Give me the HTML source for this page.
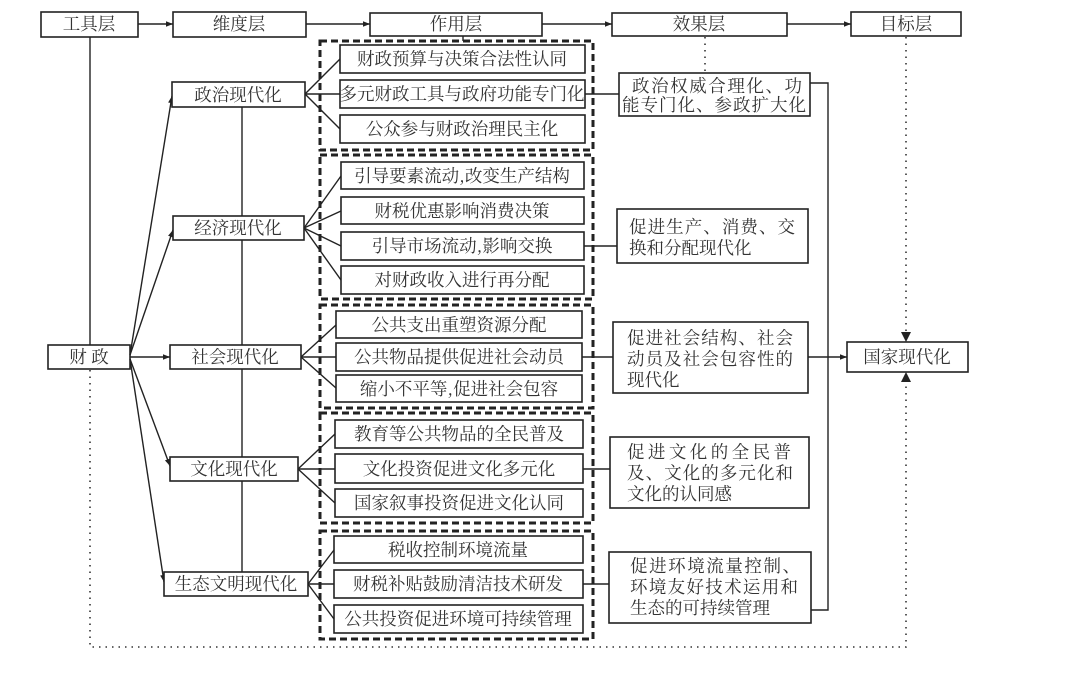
<!DOCTYPE html>
<html><head><meta charset="utf-8"><style>
html,body{margin:0;padding:0;background:#fff}
svg{display:block}
text{font-family:"Noto Serif CJK SC","Liberation Serif",serif;font-size:17.5px;fill:#333}
.b{fill:#fff;stroke:#222;stroke-width:1.6}
.l{stroke:#222;stroke-width:1.4;fill:none}
.d{stroke:#222;stroke-width:3;fill:none;stroke-dasharray:7,4}
.o{stroke:#333;stroke-width:1.6;fill:none;stroke-dasharray:1.5,5}
</style></head><body>
<svg width="1080" height="674" viewBox="0 0 1080 674">
<defs><marker id="a" viewBox="0 0 10 10" refX="10" refY="5" markerWidth="9" markerHeight="7" orient="auto" markerUnits="userSpaceOnUse"><path d="M0,1 L10,5 L0,9 Z" fill="#222"/></marker></defs>

<rect class="b" x="41" y="12" width="97" height="25"/><text x="89" y="30" text-anchor="middle">工具层</text>
<rect class="b" x="173" y="12" width="133" height="25"/><text x="239" y="30" text-anchor="middle">维度层</text>
<rect class="b" x="370" y="13" width="172" height="23"/><text x="456" y="30" text-anchor="middle">作用层</text>
<rect class="b" x="612" y="13" width="175" height="23"/><text x="699" y="30" text-anchor="middle">效果层</text>
<rect class="b" x="851" y="12" width="110" height="24"/><text x="906" y="30" text-anchor="middle">目标层</text>
<line class="l" x1="138" y1="24" x2="173" y2="24" marker-end="url(#a)"/>
<line class="l" x1="306" y1="24" x2="370" y2="24" marker-end="url(#a)"/>
<line class="l" x1="542" y1="24" x2="612" y2="24" marker-end="url(#a)"/>
<line class="l" x1="787" y1="24" x2="851" y2="24" marker-end="url(#a)"/>
<line class="l" x1="463" y1="36" x2="463" y2="41"/>

<line class="l" x1="90" y1="37" x2="90" y2="345"/>
<line class="l" x1="242" y1="107" x2="242" y2="572"/>
<polyline class="o" points="90,370 90,647 906,647 906,374"/>
<line class="o" x1="906" y1="37" x2="906" y2="336"/>
<path d="M901,332 L906,342 L911,332 Z" fill="#222"/>
<path d="M901,382 L906,372 L911,382 Z" fill="#222"/>
<line class="o" x1="705" y1="37" x2="705" y2="73"/>

<rect class="b" x="48" y="345" width="82" height="24"/><text x="89" y="363" text-anchor="middle">财 政</text>
<line class="l" x1="130" y1="355" x2="172" y2="96" marker-end="url(#a)"/>
<line class="l" x1="130" y1="355" x2="173" y2="230" marker-end="url(#a)"/>
<line class="l" x1="130" y1="357" x2="170" y2="357" marker-end="url(#a)"/>
<line class="l" x1="130" y1="359" x2="170" y2="466" marker-end="url(#a)"/>
<line class="l" x1="130" y1="359" x2="164" y2="582" marker-end="url(#a)"/>

<rect class="b" x="172" y="82" width="133" height="25"/><text x="238" y="101" text-anchor="middle">政治现代化</text>
<rect class="b" x="173" y="216" width="131" height="24"/><text x="238" y="234" text-anchor="middle">经济现代化</text>
<rect class="b" x="170" y="345" width="131" height="24"/><text x="235" y="363" text-anchor="middle">社会现代化</text>
<rect class="b" x="170" y="457" width="128" height="24"/><text x="234" y="475" text-anchor="middle">文化现代化</text>
<rect class="b" x="164" y="572" width="144" height="24"/><text x="236" y="590" text-anchor="middle">生态文明现代化</text>

<g class="l">
<line x1="305" y1="94" x2="340" y2="59"/><line x1="305" y1="94" x2="340" y2="94"/><line x1="305" y1="94" x2="340" y2="129"/>
<line x1="304" y1="228" x2="341" y2="176"/><line x1="304" y1="228" x2="341" y2="211"/><line x1="304" y1="228" x2="341" y2="246"/><line x1="304" y1="228" x2="341" y2="280"/>
<line x1="301" y1="357" x2="336" y2="325"/><line x1="301" y1="357" x2="336" y2="357"/><line x1="301" y1="357" x2="336" y2="388"/>
<line x1="298" y1="469" x2="335" y2="434"/><line x1="298" y1="469" x2="335" y2="469"/><line x1="298" y1="469" x2="335" y2="503"/>
<line x1="308" y1="584" x2="334" y2="550"/><line x1="308" y1="584" x2="334" y2="584"/><line x1="308" y1="584" x2="334" y2="619"/>
</g>

<rect class="d" x="320" y="41" width="273" height="109"/>
<rect class="d" x="320" y="155" width="273" height="144"/>
<rect class="d" x="320" y="305" width="273" height="103"/>
<rect class="d" x="320" y="413" width="273" height="110"/>
<rect class="d" x="320" y="531" width="273" height="108"/>

<g>
<rect class="b" x="340" y="45" width="245" height="28"/><text x="462" y="65" text-anchor="middle">财政预算与决策合法性认同</text>
<rect class="b" x="340" y="80" width="245" height="28"/><text x="462" y="100" text-anchor="middle">多元财政工具与政府功能专门化</text>
<rect class="b" x="340" y="115" width="245" height="28"/><text x="462" y="135" text-anchor="middle">公众参与财政治理民主化</text>
<rect class="b" x="341" y="162" width="243" height="27"/><text x="462" y="182" text-anchor="middle">引导要素流动,改变生产结构</text>
<rect class="b" x="341" y="197" width="243" height="27"/><text x="462" y="217" text-anchor="middle">财税优惠影响消费决策</text>
<rect class="b" x="341" y="232" width="243" height="28"/><text x="462" y="252" text-anchor="middle">引导市场流动,影响交换</text>
<rect class="b" x="341" y="266" width="243" height="28"/><text x="462" y="286" text-anchor="middle">对财政收入进行再分配</text>
<rect class="b" x="336" y="311" width="246" height="27"/><text x="459" y="331" text-anchor="middle">公共支出重塑资源分配</text>
<rect class="b" x="336" y="343" width="246" height="28"/><text x="459" y="363" text-anchor="middle">公共物品提供促进社会动员</text>
<rect class="b" x="336" y="375" width="246" height="27"/><text x="459" y="395" text-anchor="middle">缩小不平等,促进社会包容</text>
<rect class="b" x="335" y="420" width="248" height="28"/><text x="459" y="440" text-anchor="middle">教育等公共物品的全民普及</text>
<rect class="b" x="335" y="454" width="248" height="29"/><text x="459" y="475" text-anchor="middle">文化投资促进文化多元化</text>
<rect class="b" x="335" y="489" width="248" height="28"/><text x="459" y="509" text-anchor="middle">国家叙事投资促进文化认同</text>
<rect class="b" x="334" y="536" width="249" height="27"/><text x="458" y="556" text-anchor="middle">税收控制环境流量</text>
<rect class="b" x="334" y="570" width="249" height="28"/><text x="458" y="590" text-anchor="middle">财税补贴鼓励清洁技术研发</text>
<rect class="b" x="334" y="605" width="249" height="28"/><text x="458" y="625" text-anchor="middle">公共投资促进环境可持续管理</text>
</g>

<g class="l">
<line x1="585" y1="94" x2="619" y2="94"/>
<line x1="584" y1="246" x2="617" y2="246"/>
<line x1="582" y1="357" x2="613" y2="357"/>
<line x1="583" y1="469" x2="610" y2="469"/>
<line x1="583" y1="584" x2="609" y2="584"/>
</g>

<rect class="b" x="619" y="73" width="191" height="43"/>
<text x="632" y="92" textLength="170" lengthAdjust="spacing">政治权威合理化、功</text>
<text x="622" y="111" textLength="184" lengthAdjust="spacing">能专门化、参政扩大化</text>
<rect class="b" x="617" y="209" width="191" height="54"/>
<text x="629" y="233" textLength="166" lengthAdjust="spacing">促进生产、消费、交</text>
<text x="629" y="254">换和分配现代化</text>
<rect class="b" x="613" y="322" width="195" height="71"/>
<text x="627" y="344" textLength="166" lengthAdjust="spacing">促进社会结构、社会</text>
<text x="627" y="365" textLength="166" lengthAdjust="spacing">动员及社会包容性的</text>
<text x="627" y="386">现代化</text>
<rect class="b" x="610" y="437" width="199" height="71"/>
<text x="627" y="458" textLength="164" lengthAdjust="spacing">促进文化的全民普</text>
<text x="627" y="479" textLength="166" lengthAdjust="spacing">及、文化的多元化和</text>
<text x="627" y="500">文化的认同感</text>
<rect class="b" x="609" y="552" width="202" height="71"/>
<text x="630" y="572" textLength="170" lengthAdjust="spacing">促进环境流量控制、</text>
<text x="630" y="593" textLength="168" lengthAdjust="spacing">环境友好技术运用和</text>
<text x="630" y="614">生态的可持续管理</text>

<polyline class="l" points="810,83 828,83 828,610 811,610"/>
<line class="l" x1="808" y1="357" x2="847" y2="357" marker-end="url(#a)"/>
<rect class="b" x="847" y="342" width="121" height="30"/><text x="907" y="363" text-anchor="middle">国家现代化</text>
</svg>
</body></html>
